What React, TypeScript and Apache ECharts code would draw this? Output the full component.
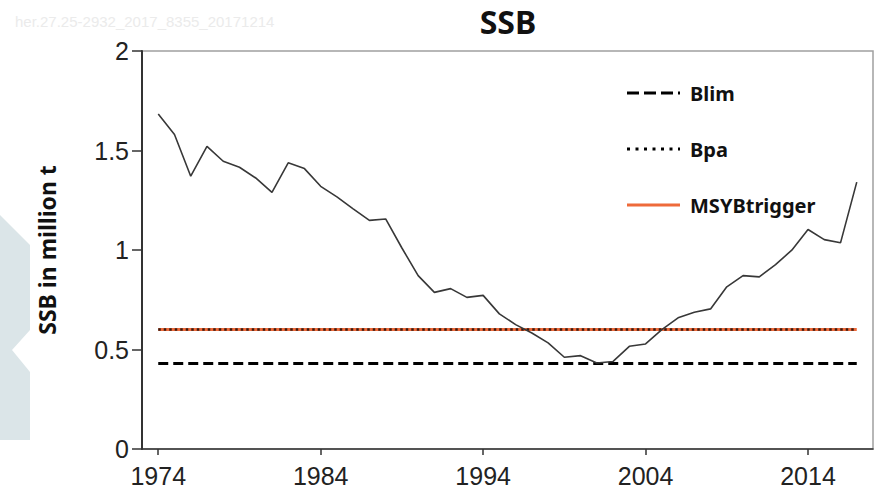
import React, { useEffect, useRef } from "react";
import * as echarts from "echarts";

const years: number[] = [
  1974, 1975, 1976, 1977, 1978, 1979, 1980, 1981, 1982, 1983,
  1984, 1985, 1986, 1987, 1988, 1989, 1990, 1991, 1992, 1993,
  1994, 1995, 1996, 1997, 1998, 1999, 2000, 2001, 2002, 2003,
  2004, 2005, 2006, 2007, 2008, 2009, 2010, 2011, 2012, 2013,
  2014, 2015, 2016, 2017,
];
const ssb: number[] = [
  1.684, 1.58, 1.371, 1.521, 1.446, 1.416, 1.362, 1.29, 1.438, 1.409,
  1.32, 1.267, 1.207, 1.149, 1.156, 1.01, 0.871, 0.787, 0.806, 0.762,
  0.772, 0.679, 0.625, 0.583, 0.533, 0.461, 0.469, 0.432, 0.44, 0.516,
  0.528, 0.6, 0.659, 0.687, 0.704, 0.815, 0.871, 0.865, 0.927, 0.999,
  1.103, 1.052, 1.036, 1.341,
];
const blim = 0.43;
const bpa = 0.6;
const msyBtrigger = 0.6;
const xTicks: number[] = [1974, 1984, 1994, 2004, 2014];
const yTicks: number[] = [0, 0.5, 1, 1.5, 2];
const legendNames: string[] = ["Blim", "Bpa", "MSYBtrigger"];

export default function App() {
  const ref = useRef<HTMLDivElement>(null);
  useEffect(() => {
    if (!ref.current) return;
    const chart = echarts.init(ref.current, null, { renderer: "svg" });
    const first = years[0];
    const last = years[years.length - 1];
    const labelFont = "'Liberation Sans', Arial, sans-serif";
    const boldFont = "'Noto Sans', 'Open Sans', sans-serif";
    const orange = "#ee6a3a";

    const legendStyles = [
      { stroke: "#000", lineWidth: 3, lineDash: [12, 5] },
      { stroke: "#000", lineWidth: 3, lineDash: [3, 5.5] },
      { stroke: orange, lineWidth: 3 },
    ];
    const legendGraphics: any[] = [];
    legendNames.forEach((name, i) => {
      const cy = 93 + i * 56;
      legendGraphics.push({
        type: "line",
        silent: true,
        shape: { x1: 627, y1: cy, x2: 680, y2: cy },
        style: { ...legendStyles[i], fill: null },
        z: 10,
      });
      legendGraphics.push({
        type: "text",
        silent: true,
        x: 690,
        y: cy,
        style: {
          text: name,
          fontFamily: boldFont,
          fontWeight: "bold",
          fontSize: 20,
          fill: "#111",
          verticalAlign: "middle",
          align: "left",
        },
        z: 10,
      });
    });

    chart.setOption({
      animation: false,
      backgroundColor: "#ffffff",
      title: {
        text: "SSB",
        left: 503,
        top: 0,
        textAlign: "center",
        textStyle: { fontFamily: boldFont, fontWeight: "bold", fontSize: 32, color: "#111" },
      },
      graphic: [
        {
          type: "polygon",
          silent: true,
          z: 0,
          shape: {
            points: [
              [0, 215], [30, 245], [30, 330], [12, 350], [30, 372], [30, 440], [0, 440],
            ],
          },
          style: { fill: "#dbe5e8" },
        },
        {
          type: "text",
          left: 15,
          top: 14,
          silent: true,
          style: {
            text: "her.27.25-2932_2017_8355_20171214",
            fontSize: 15,
            fontFamily: labelFont,
            fill: "#ebebeb",
          },
        },
        ...legendGraphics,
      ],
      grid: {
        left: 142,
        right: 1,
        top: 51,
        bottom: 42,
        show: true,
        borderColor: "#a0a0a0",
        borderWidth: 1.5,
      },
      xAxis: {
        type: "value",
        min: 1973,
        max: 2018,
        splitLine: { show: false },
        axisLine: { show: true, onZero: false, lineStyle: { color: "#333", width: 1.5 } },
        axisTick: { show: true, length: 6, customValues: xTicks, lineStyle: { color: "#333", width: 1.5 } },
        axisLabel: {
          customValues: xTicks,
          margin: 14,
          fontSize: 25,
          fontFamily: labelFont,
          color: "#222",
          formatter: (v: number) => String(v),
        },
      },
      yAxis: {
        type: "value",
        min: 0,
        max: 2,
        interval: 0.5,
        name: "SSB in million t",
        nameLocation: "middle",
        nameGap: 84,
        nameRotate: 90,
        nameTextStyle: { fontFamily: boldFont, fontWeight: "bold", fontSize: 23, color: "#111" },
        splitLine: { show: false },
        axisLine: { show: true, lineStyle: { color: "#333", width: 2 } },
        axisTick: { show: true, length: 10, customValues: yTicks, lineStyle: { color: "#333", width: 1.5 } },
        axisLabel: {
          margin: 13,
          fontSize: 25,
          fontFamily: labelFont,
          color: "#222",
        },
      },
      series: [
        {
          name: "SSB",
          type: "line",
          data: years.map((y, i) => [y, ssb[i]]),
          symbol: "none",
          lineStyle: { color: "#383838", width: 1.6 },
          z: 5,
        },
        {
          name: "MSYBtrigger",
          type: "line",
          data: [[first, msyBtrigger], [last, msyBtrigger]],
          symbol: "none",
          color: orange,
          lineStyle: { color: orange, width: 3 },
          z: 3,
        },
        {
          name: "Bpa",
          type: "line",
          data: [[first, bpa], [last, bpa]],
          symbol: "none",
          color: "#000",
          lineStyle: { color: "#3a1a10", width: 2.5, type: [2.5, 3] },
          z: 4,
        },
        {
          name: "Blim",
          type: "line",
          data: [[first, blim], [last, blim]],
          symbol: "none",
          color: "#000",
          lineStyle: { color: "#000", width: 3, type: [10, 5] },
          z: 4,
        },
      ],
    });
    return () => chart.dispose();
  }, []);
  return (
    <div
      ref={ref}
      style={{ position: "fixed", left: 0, top: 0, width: 874, height: 491 }}
    />
  );
}
